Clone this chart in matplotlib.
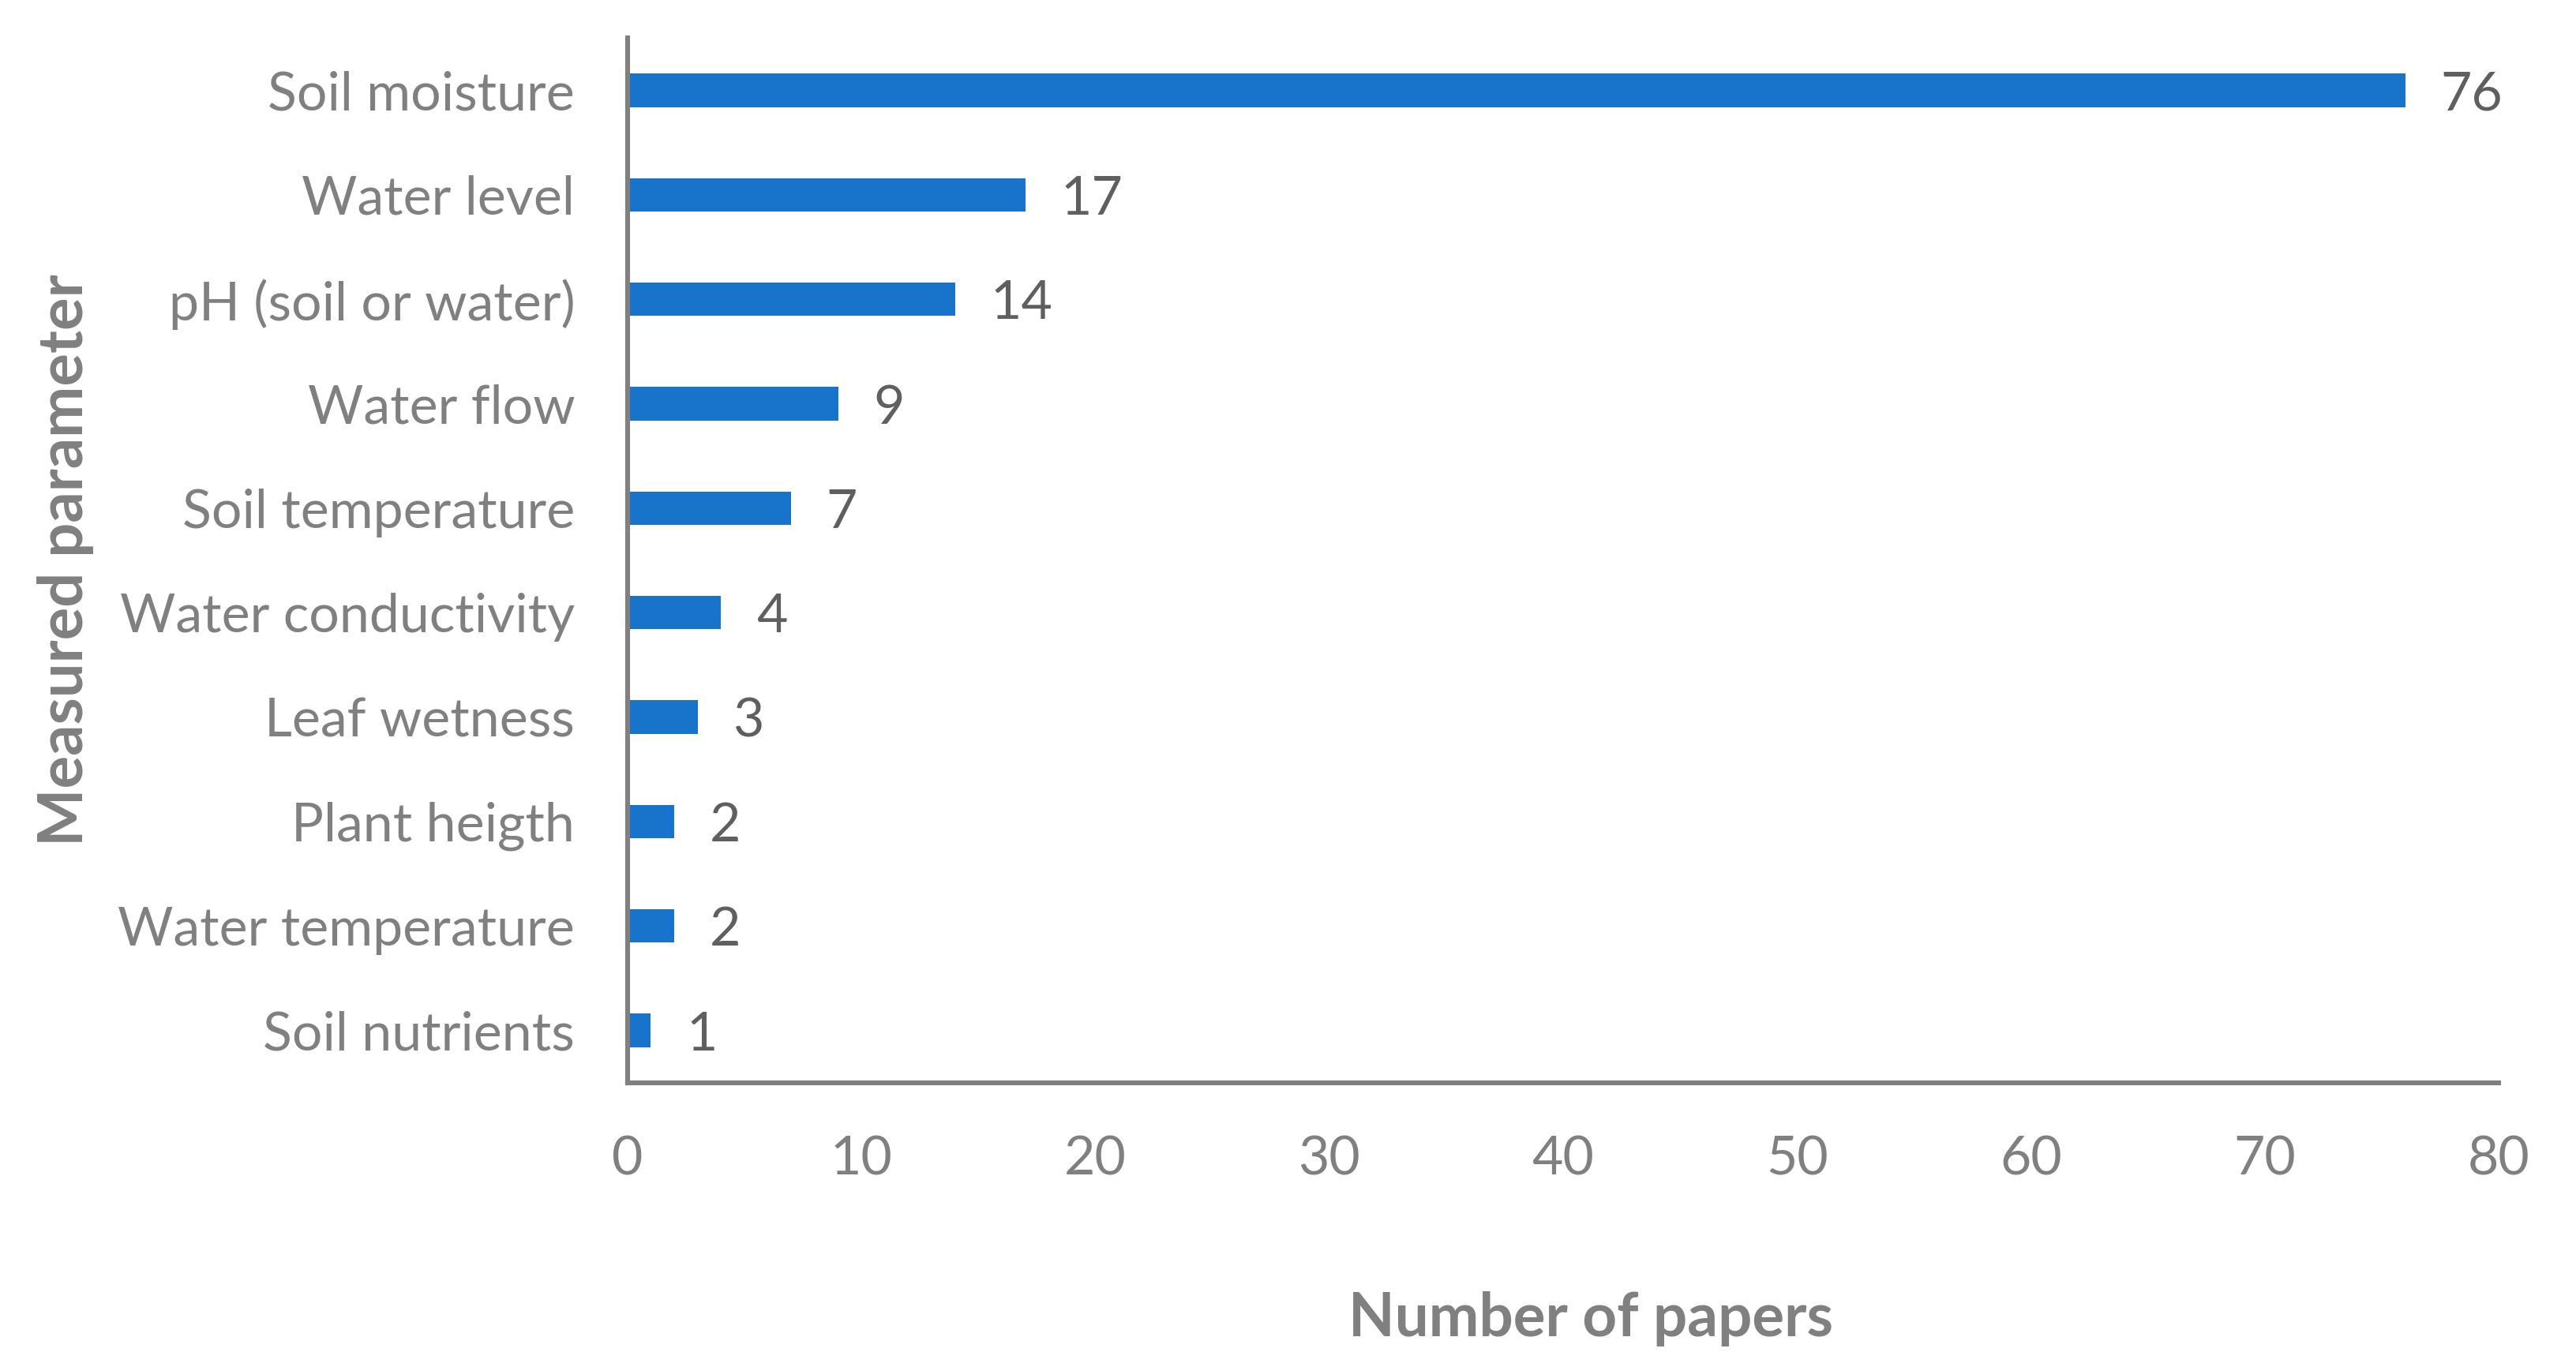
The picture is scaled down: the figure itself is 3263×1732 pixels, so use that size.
import matplotlib
matplotlib.use("Agg")
import matplotlib.pyplot as plt

# data (top -> bottom as shown)
params = ["Soil moisture", "Water level", "pH (soil or water)", "Water flow",
          "Soil temperature", "Water conductivity", "Leaf wetness",
          "Plant heigth", "Water temperature", "Soil nutrients"]
papers = [76, 17, 14, 9, 7, 4, 3, 2, 2, 1]

plt.rcParams['font.family'] = ['Lato', 'DejaVu Sans']

fig = plt.figure(figsize=(16.315, 8.66), dpi=200)
ax = fig.add_axes([0.2436, 0.208, 0.7264, 0.764])

ypos = list(range(len(params)))[::-1]
bars = ax.barh(ypos, papers, height=0.32, color="#1874CB")

for y, v in zip(ypos, papers):
    ax.annotate(str(v), (v, y), xytext=(16, 0), textcoords="offset points",
                va="center_baseline", ha="left", fontsize=24.5, color="#5f5f5f")

ax.set_ylim(-0.5, len(params) - 0.5)
ax.set_xlim(0, 80)
ax.set_xticks(range(0, 81, 10))
ax.set_yticks(ypos)
ax.set_yticklabels(params)
ax.tick_params(axis="y", length=0, pad=24, labelsize=24.5, labelcolor="#808080")
ax.tick_params(axis="x", length=0, pad=24, labelsize=24.5, labelcolor="#808080")

for s in ["top", "right"]:
    ax.spines[s].set_visible(False)
for s in ["left", "bottom"]:
    ax.spines[s].set_color("#808080")
    ax.spines[s].set_linewidth(2.2)

ax.set_xlabel("Number of papers", fontsize=27.5, fontweight="bold", color="#808080")
ax.set_ylabel("Measured parameter", fontsize=28, fontweight="bold", color="#808080", labelpad=11)
ax.xaxis.set_label_coords(0.515, -0.20)

fig.savefig("out.png", dpi=200)
